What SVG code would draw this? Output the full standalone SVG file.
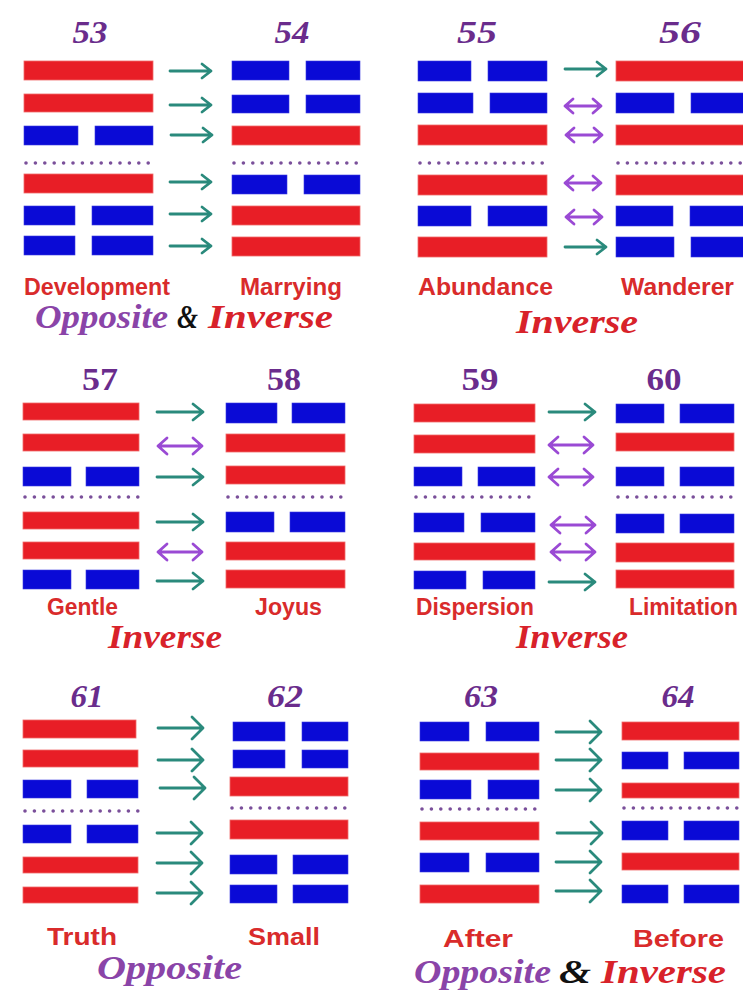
<svg xmlns="http://www.w3.org/2000/svg" xmlns:xlink="http://www.w3.org/1999/xlink" width="743" height="992" viewBox="0 0 743 992">
<style>
.y{fill:#e81e26;stroke:#f06a6a;stroke-width:0.8}
.n{fill:#0a0ad6;stroke:#3a3ae0;stroke-width:0.6}
.dot{stroke:#7a4f9a;stroke-width:3.6;stroke-linecap:round;stroke-dasharray:0 9.4;fill:none}
.ar{fill:none;stroke:#2a8a7c;stroke-width:2.8;stroke-linecap:round;stroke-linejoin:round}
.dar{fill:none;stroke:#9a4ad4;stroke-width:2.8;stroke-linecap:round;stroke-linejoin:round}
.num{font-family:"Liberation Serif",serif;font-weight:bold;fill:#6a2c8c;font-size:31px}
.it{font-style:italic}
.lab{font-family:"Liberation Sans",Arial,sans-serif;font-weight:bold;fill:#d92b2b;font-size:23.5px}
.cap{font-family:"Liberation Serif",serif;font-weight:bold;font-style:italic;font-size:33px}
.op{fill:#8a44a8}
.inv{fill:#d8222a}
.amp{fill:#111}
</style>
<defs>
<path id="a1" d="M0,0 H41 M32,-7 L41,0 L32,7"/>
<path id="d1" d="M0,0 H36 M8,-7 L0,0 L8,7 M28,-7 L36,0 L28,7"/>
<path id="a2" d="M0,0 H46 M36,-8 L46,0 L36,8"/>
<path id="d2" d="M0,0 H44 M9,-8 L0,0 L9,8 M35,-8 L44,0 L35,8"/>
<path id="a3" d="M0,0 H45 M34,-11 L45,0 L34,11"/>
</defs>
<rect width="743" height="992" fill="#ffffff"/>

<g id="hex53">
<text class="num it" x="90" y="43" text-anchor="middle" textLength="35" lengthAdjust="spacingAndGlyphs">53</text>
<rect class="y" x="24" y="61" width="129" height="19"/>
<rect class="y" x="24" y="94" width="129" height="18"/>
<rect class="n" x="24" y="126" width="54" height="19"/><rect class="n" x="95" y="126" width="58" height="19"/>
<line class="dot" x1="26" y1="163" x2="153" y2="163"/>
<rect class="y" x="24" y="174" width="129" height="19"/>
<rect class="n" x="24" y="206" width="51" height="19"/><rect class="n" x="92" y="206" width="61" height="19"/>
<rect class="n" x="24" y="236" width="51" height="19"/><rect class="n" x="92" y="236" width="61" height="19"/>
<text class="lab" x="24" y="295" textLength="146" lengthAdjust="spacingAndGlyphs">Development</text>
</g>
<g id="hex54">
<text class="num it" x="292" y="43" text-anchor="middle" textLength="35" lengthAdjust="spacingAndGlyphs">54</text>
<rect class="n" x="232" y="61" width="57" height="19"/><rect class="n" x="306" y="61" width="54" height="19"/>
<rect class="n" x="232" y="95" width="57" height="18"/><rect class="n" x="306" y="95" width="54" height="18"/>
<rect class="y" x="232" y="126" width="128" height="19"/>
<line class="dot" x1="234" y1="163" x2="360" y2="163"/>
<rect class="n" x="232" y="175" width="55" height="19"/><rect class="n" x="304" y="175" width="56" height="19"/>
<rect class="y" x="232" y="206" width="128" height="19"/>
<rect class="y" x="232" y="237" width="128" height="19"/>
<text class="lab" x="240" y="295" textLength="102" lengthAdjust="spacingAndGlyphs">Marrying</text>
</g>

<g id="hex55">
<text class="num it" x="477" y="43" text-anchor="middle" textLength="40" lengthAdjust="spacingAndGlyphs">55</text>
<rect class="n" x="418" y="61" width="53" height="20"/><rect class="n" x="488" y="61" width="59" height="20"/>
<rect class="n" x="418" y="93" width="55" height="20"/><rect class="n" x="490" y="93" width="57" height="20"/>
<rect class="y" x="418" y="125" width="129" height="20"/>
<line class="dot" x1="420" y1="163" x2="547" y2="163"/>
<rect class="y" x="418" y="175" width="129" height="20"/>
<rect class="n" x="418" y="206" width="53" height="20"/><rect class="n" x="488" y="206" width="59" height="20"/>
<rect class="y" x="418" y="237" width="129" height="20"/>
<text class="lab" x="418" y="295" textLength="135" lengthAdjust="spacingAndGlyphs">Abundance</text>
</g>
<g id="hex56">
<text class="num it" x="680" y="43" text-anchor="middle" textLength="42" lengthAdjust="spacingAndGlyphs">56</text>
<rect class="y" x="616" y="61" width="134" height="20"/>
<rect class="n" x="616" y="93" width="58" height="20"/><rect class="n" x="691" y="93" width="59" height="20"/>
<rect class="y" x="616" y="125" width="134" height="20"/>
<line class="dot" x1="618" y1="163" x2="745" y2="163"/>
<rect class="y" x="616" y="175" width="134" height="20"/>
<rect class="n" x="616" y="206" width="57" height="20"/><rect class="n" x="690" y="206" width="60" height="20"/>
<rect class="n" x="616" y="237" width="58" height="20"/><rect class="n" x="691" y="237" width="59" height="20"/>
<text class="lab" x="621" y="295" textLength="113" lengthAdjust="spacingAndGlyphs">Wanderer</text>
</g>

<g id="hex57">
<text class="num" x="100" y="390" text-anchor="middle" textLength="36" lengthAdjust="spacingAndGlyphs">57</text>
<rect class="y" x="23" y="403" width="116" height="17"/>
<rect class="y" x="23" y="434" width="116" height="17"/>
<rect class="n" x="23" y="467" width="48" height="19"/><rect class="n" x="86" y="467" width="53" height="19"/>
<line class="dot" x1="25" y1="497" x2="139" y2="497"/>
<rect class="y" x="23" y="512" width="116" height="17"/>
<rect class="y" x="23" y="542" width="116" height="17"/>
<rect class="n" x="23" y="570" width="48" height="19"/><rect class="n" x="86" y="570" width="53" height="19"/>
<text class="lab" x="47" y="615" textLength="71" lengthAdjust="spacingAndGlyphs">Gentle</text>
</g>
<g id="hex58">
<text class="num" x="284" y="390" text-anchor="middle" textLength="34" lengthAdjust="spacingAndGlyphs">58</text>
<rect class="n" x="226" y="403" width="51" height="20"/><rect class="n" x="292" y="403" width="53" height="20"/>
<rect class="y" x="226" y="434" width="119" height="18"/>
<rect class="y" x="226" y="466" width="119" height="18"/>
<line class="dot" x1="228" y1="497" x2="345" y2="497"/>
<rect class="n" x="226" y="512" width="48" height="20"/><rect class="n" x="290" y="512" width="55" height="20"/>
<rect class="y" x="226" y="542" width="119" height="18"/>
<rect class="y" x="226" y="570" width="119" height="18"/>
<text class="lab" x="255" y="615" textLength="67" lengthAdjust="spacingAndGlyphs">Joyus</text>
</g>

<g id="hex59">
<text class="num" x="480" y="390" text-anchor="middle" textLength="37" lengthAdjust="spacingAndGlyphs">59</text>
<rect class="y" x="414" y="404" width="121" height="18"/>
<rect class="y" x="414" y="435" width="121" height="18"/>
<rect class="n" x="414" y="467" width="48" height="19"/><rect class="n" x="478" y="467" width="57" height="19"/>
<line class="dot" x1="416" y1="497" x2="535" y2="497"/>
<rect class="n" x="414" y="513" width="50" height="19"/><rect class="n" x="481" y="513" width="54" height="19"/>
<rect class="y" x="414" y="543" width="121" height="17"/>
<rect class="n" x="414" y="571" width="52" height="18"/><rect class="n" x="483" y="571" width="52" height="18"/>
<text class="lab" x="416" y="615" textLength="118" lengthAdjust="spacingAndGlyphs">Dispersion</text>
</g>
<g id="hex60">
<text class="num" x="664" y="390" text-anchor="middle" textLength="35" lengthAdjust="spacingAndGlyphs">60</text>
<rect class="n" x="616" y="404" width="48" height="19"/><rect class="n" x="680" y="404" width="54" height="19"/>
<rect class="y" x="616" y="433" width="118" height="18"/>
<rect class="n" x="616" y="467" width="48" height="19"/><rect class="n" x="680" y="467" width="54" height="19"/>
<line class="dot" x1="618" y1="497" x2="734" y2="497"/>
<rect class="n" x="616" y="514" width="48" height="19"/><rect class="n" x="680" y="514" width="54" height="19"/>
<rect class="y" x="616" y="543" width="118" height="19"/>
<rect class="y" x="616" y="570" width="118" height="18"/>
<text class="lab" x="629" y="615" textLength="109" lengthAdjust="spacingAndGlyphs">Limitation</text>
</g>

<g id="hex61">
<text class="num it" x="87" y="707" text-anchor="middle" textLength="33" lengthAdjust="spacingAndGlyphs">61</text>
<rect class="y" x="23" y="720" width="113" height="18"/>
<rect class="y" x="23" y="750" width="115" height="17"/>
<rect class="n" x="23" y="780" width="48" height="18"/><rect class="n" x="87" y="780" width="51" height="18"/>
<line class="dot" x1="25" y1="811" x2="138" y2="811"/>
<rect class="n" x="23" y="825" width="48" height="18"/><rect class="n" x="87" y="825" width="51" height="18"/>
<rect class="y" x="23" y="857" width="115" height="16"/>
<rect class="y" x="23" y="887" width="115" height="16"/>
<text class="lab" x="47" y="945" textLength="70" lengthAdjust="spacingAndGlyphs">Truth</text>
</g>
<g id="hex62">
<text class="num it" x="285" y="707" text-anchor="middle" textLength="36" lengthAdjust="spacingAndGlyphs">62</text>
<rect class="n" x="233" y="722" width="52" height="19"/><rect class="n" x="302" y="722" width="46" height="19"/>
<rect class="n" x="233" y="750" width="52" height="18"/><rect class="n" x="302" y="750" width="46" height="18"/>
<rect class="y" x="230" y="777" width="118" height="19"/>
<line class="dot" x1="232" y1="808" x2="348" y2="808"/>
<rect class="y" x="230" y="820" width="118" height="19"/>
<rect class="n" x="230" y="855" width="47" height="19"/><rect class="n" x="293" y="855" width="55" height="19"/>
<rect class="n" x="230" y="885" width="47" height="18"/><rect class="n" x="293" y="885" width="55" height="18"/>
<text class="lab" x="248" y="945" textLength="72" lengthAdjust="spacingAndGlyphs">Small</text>
</g>

<g id="hex63">
<text class="num it" x="481" y="707" text-anchor="middle" textLength="34" lengthAdjust="spacingAndGlyphs">63</text>
<rect class="n" x="420" y="722" width="49" height="19"/><rect class="n" x="486" y="722" width="53" height="19"/>
<rect class="y" x="420" y="753" width="119" height="17"/>
<rect class="n" x="420" y="780" width="51" height="19"/><rect class="n" x="488" y="780" width="51" height="19"/>
<line class="dot" x1="422" y1="809" x2="539" y2="809"/>
<rect class="y" x="420" y="822" width="119" height="18"/>
<rect class="n" x="420" y="853" width="49" height="19"/><rect class="n" x="486" y="853" width="53" height="19"/>
<rect class="y" x="420" y="885" width="119" height="18"/>
<text class="lab" x="443" y="947" textLength="70" lengthAdjust="spacingAndGlyphs">After</text>
</g>
<g id="hex64">
<text class="num it" x="678" y="707" text-anchor="middle" textLength="33" lengthAdjust="spacingAndGlyphs">64</text>
<rect class="y" x="622" y="722" width="117" height="18"/>
<rect class="n" x="622" y="752" width="46" height="17"/><rect class="n" x="684" y="752" width="55" height="17"/>
<rect class="y" x="622" y="783" width="117" height="15"/>
<line class="dot" x1="624" y1="808" x2="739" y2="808"/>
<rect class="n" x="622" y="821" width="46" height="19"/><rect class="n" x="684" y="821" width="55" height="19"/>
<rect class="y" x="622" y="853" width="117" height="17"/>
<rect class="n" x="622" y="885" width="46" height="18"/><rect class="n" x="684" y="885" width="55" height="18"/>
<text class="lab" x="633" y="947" textLength="91" lengthAdjust="spacingAndGlyphs">Before</text>
</g>

<g id="connectors">
<g class="ar">
<use xlink:href="#a1" x="170" y="71"/>
<use xlink:href="#a1" x="170" y="105"/>
<use xlink:href="#a1" x="171" y="135"/>
<use xlink:href="#a1" x="170" y="182"/>
<use xlink:href="#a1" x="170" y="214"/>
<use xlink:href="#a1" x="170" y="246"/>
<use xlink:href="#a1" x="565" y="69"/>
<use xlink:href="#a1" x="565" y="247"/>
<use xlink:href="#a2" x="157" y="412"/>
<use xlink:href="#a2" x="157" y="477"/>
<use xlink:href="#a2" x="157" y="522"/>
<use xlink:href="#a2" x="157" y="581"/>
<use xlink:href="#a2" x="549" y="412"/>
<use xlink:href="#a2" x="549" y="582"/>
<use xlink:href="#a3" x="158" y="728"/>
<use xlink:href="#a3" x="158" y="760"/>
<use xlink:href="#a3" x="160" y="788"/>
<use xlink:href="#a3" x="157" y="833"/>
<use xlink:href="#a3" x="157" y="863"/>
<use xlink:href="#a3" x="157" y="893"/>
<use xlink:href="#a3" x="556" y="732"/>
<use xlink:href="#a3" x="556" y="760"/>
<use xlink:href="#a3" x="556" y="790"/>
<use xlink:href="#a3" x="557" y="833"/>
<use xlink:href="#a3" x="556" y="862"/>
<use xlink:href="#a3" x="556" y="891"/>
</g>
<g class="dar">
<use xlink:href="#d1" x="565" y="106"/>
<use xlink:href="#d1" x="566" y="135"/>
<use xlink:href="#d1" x="565" y="183"/>
<use xlink:href="#d1" x="566" y="217"/>
<use xlink:href="#d2" x="158" y="446"/>
<use xlink:href="#d2" x="158" y="552"/>
<use xlink:href="#d2" x="549" y="445"/>
<use xlink:href="#d2" x="549" y="477"/>
<use xlink:href="#d2" x="551" y="525"/>
<use xlink:href="#d2" x="551" y="552"/>
</g>
</g>

<g id="captions">
<text class="cap op" x="35" y="328" textLength="133" lengthAdjust="spacingAndGlyphs">Opposite</text>
<text class="cap amp" x="177" y="328" textLength="21" lengthAdjust="spacingAndGlyphs">&amp;</text>
<text class="cap inv" x="208" y="328" textLength="125" lengthAdjust="spacingAndGlyphs">Inverse</text>
<text class="cap inv" x="516" y="333" textLength="122" lengthAdjust="spacingAndGlyphs">Inverse</text>
<text class="cap inv" x="108" y="648" textLength="114" lengthAdjust="spacingAndGlyphs">Inverse</text>
<text class="cap inv" x="516" y="648" textLength="112" lengthAdjust="spacingAndGlyphs">Inverse</text>
<text class="cap op" x="97" y="979" font-weight="normal" textLength="145" lengthAdjust="spacingAndGlyphs">Opposite</text>
<text class="cap op" x="414" y="983" font-size="31" textLength="137" lengthAdjust="spacingAndGlyphs">Opposite</text>
<text class="cap amp" x="559" y="983" font-size="31" textLength="32" lengthAdjust="spacingAndGlyphs">&amp;</text>
<text class="cap inv" x="601" y="983" font-size="31" textLength="125" lengthAdjust="spacingAndGlyphs">Inverse</text>
</g>
</svg>
